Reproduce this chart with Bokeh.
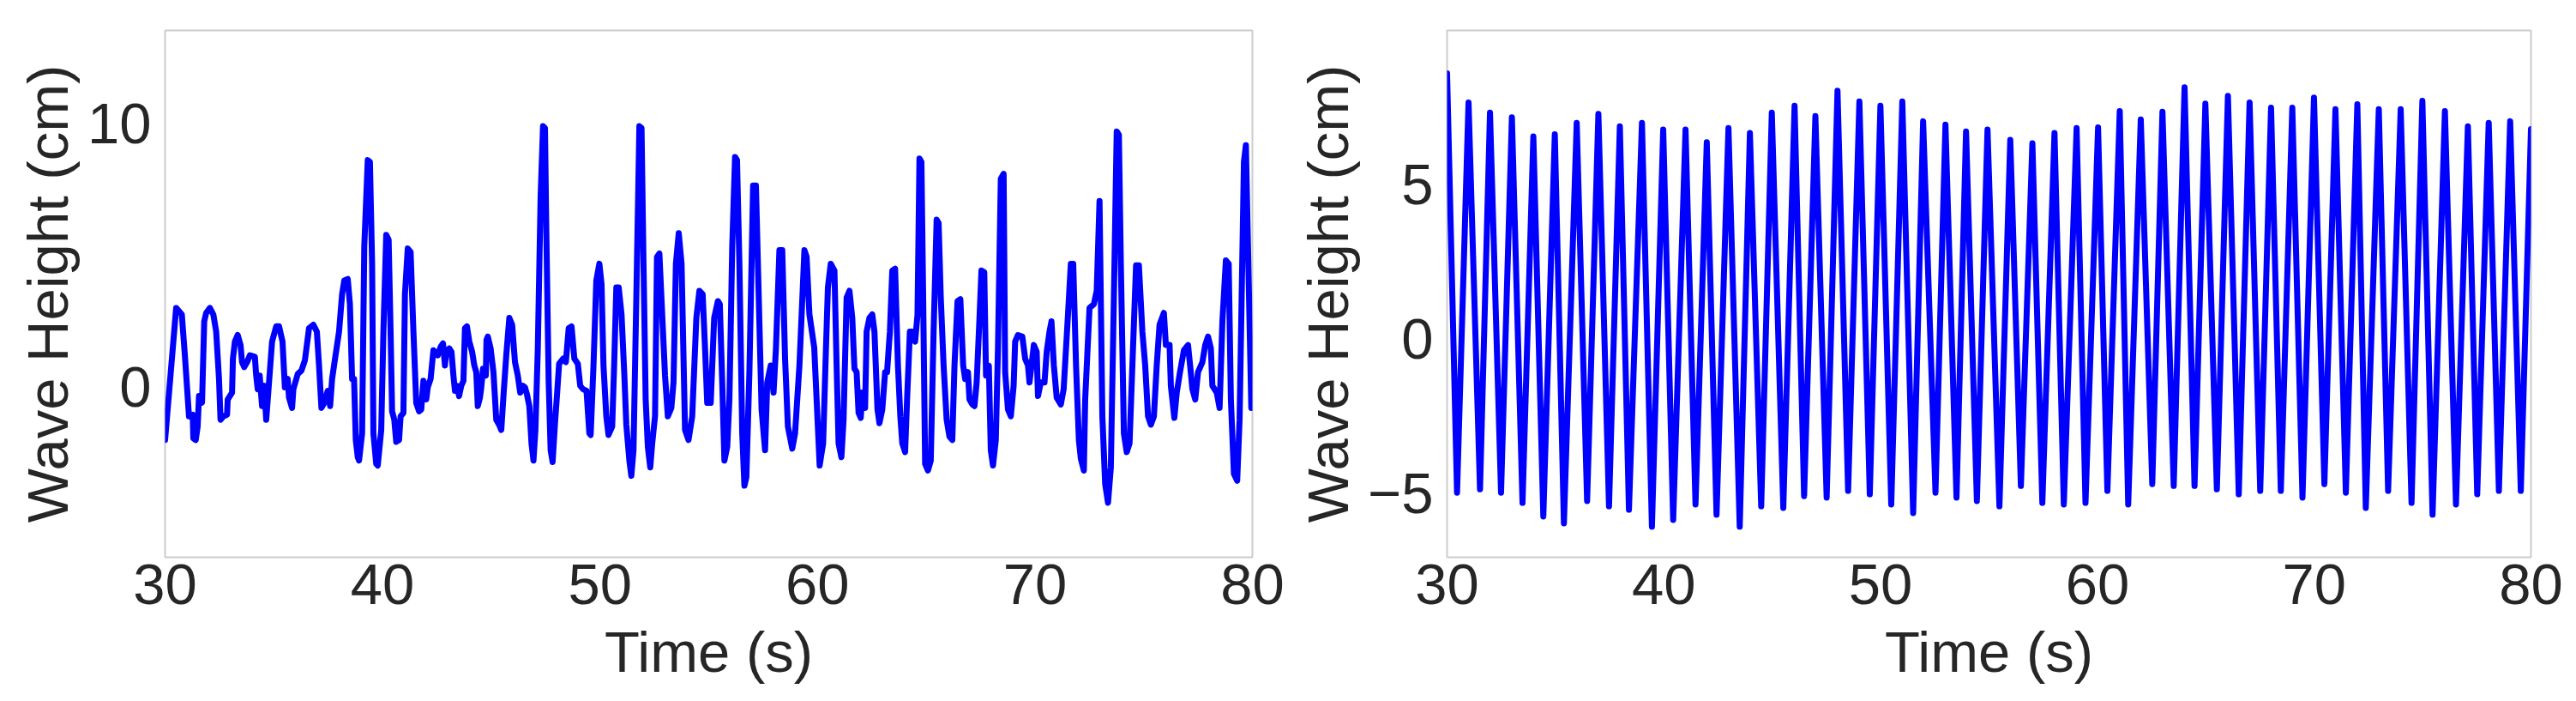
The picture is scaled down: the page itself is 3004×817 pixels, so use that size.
from bokeh.plotting import figure
from bokeh.layouts import row
from bokeh.models import FixedTicker, Range1d
from bokeh.embed import file_html
from bokeh.resources import INLINE

# ---- data ----
time_irregular = [
    30.00, 30.51, 30.77, 30.91, 31.10, 31.27, 31.30, 31.41, 31.50, 31.56, 31.70, 31.80, 31.89, 32.06, 32.22,
    32.35, 32.48, 32.55, 32.68, 32.85, 32.88, 33.08, 33.12, 33.21, 33.34, 33.47, 33.54, 33.64, 33.77, 33.90,
    34.13, 34.19, 34.26, 34.35, 34.46, 34.56, 34.65, 34.78, 34.92, 35.11, 35.24, 35.40, 35.51, 35.64, 35.70,
    35.84, 35.90, 36.10, 36.27, 36.43, 36.62, 36.82, 36.98, 37.08, 37.19, 37.32, 37.48, 37.59, 37.68, 37.77,
    38.00, 38.14, 38.24, 38.40, 38.50, 38.60, 38.69, 38.77, 38.86, 38.92, 39.06, 39.16, 39.32, 39.42, 39.52,
    39.58, 39.71, 39.78, 39.94, 40.04, 40.17, 40.28, 40.37, 40.44, 40.54, 40.63, 40.76, 40.83, 40.96, 41.03,
    41.16, 41.29, 41.42, 41.55, 41.68, 41.78, 41.88, 42.01, 42.08, 42.21, 42.34, 42.54, 42.67, 42.78, 42.87,
    42.93, 43.07, 43.17, 43.26, 43.33, 43.43, 43.52, 43.62, 43.72, 43.79, 43.88, 43.99, 44.12, 44.22, 44.31,
    44.38, 44.48, 44.54, 44.62, 44.75, 44.78, 44.84, 44.97, 45.10, 45.23, 45.36, 45.46, 45.56, 45.69, 45.83,
    45.96, 46.09, 46.22, 46.33, 46.46, 46.55, 46.64, 46.75, 46.85, 46.94, 47.03, 47.14, 47.27, 47.38, 47.47,
    47.53, 47.64, 47.73, 47.82, 47.93, 48.03, 48.12, 48.30, 48.43, 48.56, 48.69, 48.82, 48.98, 49.09, 49.22,
    49.38, 49.51, 49.57, 49.70, 49.83, 49.97, 50.07, 50.16, 50.29, 50.39, 50.56, 50.65, 50.75, 50.86, 50.99,
    51.12, 51.21, 51.35, 51.44, 51.54, 51.67, 51.81, 51.91, 52.00, 52.10, 52.20, 52.31, 52.40, 52.53, 52.62,
    52.73, 52.86, 52.99, 53.12, 53.28, 53.38, 53.49, 53.62, 53.75, 53.91, 54.07, 54.24, 54.43, 54.57, 54.72,
    54.83, 54.93, 55.09, 55.16, 55.25, 55.42, 55.51, 55.62, 55.72, 55.85, 55.95, 56.08, 56.21, 56.30, 56.41,
    56.54, 56.64, 56.73, 56.87, 57.04, 57.17, 57.30, 57.43, 57.59, 57.69, 57.85, 57.98, 58.09, 58.25, 58.38,
    58.51, 58.64, 58.84, 58.97, 59.17, 59.40, 59.50, 59.63, 59.85, 60.10, 60.26, 60.39, 60.48, 60.61, 60.78,
    60.88, 60.97, 61.10, 61.20, 61.34, 61.47, 61.60, 61.70, 61.80, 61.89, 61.99, 62.06, 62.19, 62.26, 62.39,
    62.52, 62.62, 62.76, 62.85, 62.98, 63.11, 63.20, 63.33, 63.44, 63.57, 63.70, 63.81, 63.90, 64.03, 64.12,
    64.25, 64.36, 64.49, 64.60, 64.69, 64.78, 64.86, 64.95, 65.08, 65.21, 65.34, 65.48, 65.57, 65.67, 65.80,
    65.94, 66.07, 66.20, 66.30, 66.44, 66.57, 66.70, 66.79, 66.92, 66.99, 67.12, 67.22, 67.32, 67.45, 67.54,
    67.67, 67.75, 67.88, 67.97, 68.07, 68.20, 68.30, 68.43, 68.56, 68.63, 68.76, 68.89, 69.02, 69.09, 69.22,
    69.42, 69.55, 69.68, 69.75, 69.95, 70.08, 70.14, 70.27, 70.44, 70.54, 70.67, 70.76, 70.87, 71.00, 71.19,
    71.32, 71.52, 71.65, 71.76, 71.89, 72.02, 72.11, 72.25, 72.31, 72.51, 72.71, 72.84, 72.97, 73.10, 73.23,
    73.36, 73.49, 73.63, 73.76, 73.86, 73.95, 74.09, 74.22, 74.35, 74.48, 74.65, 74.78, 74.94, 75.07, 75.20,
    75.33, 75.47, 75.60, 75.73, 75.93, 76.02, 76.19, 76.25, 76.41, 76.52, 76.67, 76.85, 77.04, 77.15, 77.24,
    77.37, 77.50, 77.70, 77.83, 77.96, 78.09, 78.16, 78.36, 78.49, 78.62, 78.78, 78.91, 79.01, 79.15, 79.30,
    79.41, 79.61, 79.70, 79.95,
]
height_irregular = [
    -2.02, 3.00, 2.75, 1.20, -1.12, -1.06, -1.96, -2.02, -1.50, -0.35, -0.60, 2.49, 2.81, 3.00, 2.75,
    2.10, 0.30, -1.25, -1.12, -1.06, -0.48, -0.22, 1.07, 1.72, 1.97, 1.59, 0.94, 0.75, 0.94, 1.20,
    1.14, 0.43, -0.09, 0.43, -0.73, 0.04, -1.25, 0.17, 1.72, 2.30, 2.30, 1.72, -0.02, 0.30, -0.41,
    -0.80, -0.09, 0.49, 0.62, 1.01, 2.23, 2.36, 2.10, 0.81, -0.80, -0.61, -0.15, -0.73, 0.30, 0.81,
    2.10, 3.52, 4.04, 4.10, 3.14, 0.30, 0.30, -2.02, -2.67, -2.80, -1.77, 5.33, 8.62, 8.55, 4.68,
    -1.77, -2.93, -2.99, -1.64, 2.10, 5.78, 5.59, 2.10, -0.93, -1.25, -2.09, -2.02, -1.12, -0.99, 3.52,
    5.26, 5.13, 2.10, -0.61, -0.93, -0.86, 0.23, -0.48, -0.02, 0.30, 1.39, 1.20, 1.52, 1.65, 0.81,
    1.33, 1.46, 1.33, 0.43, -0.15, 0.04, -0.35, 0.04, 0.23, 2.23, 2.30, 1.72, 1.33, 0.81, 0.56,
    -0.73, -0.41, -0.02, 0.69, 0.43, 1.78, 1.91, 1.46, 0.56, -1.25, -1.44, -1.64, -0.35, 1.20, 2.62,
    2.36, 0.94, 0.43, -0.22, 0.04, -0.02, -0.28, -0.73, -2.15, -2.80, -1.64, 1.46, 7.26, 9.91, 9.84,
    5.97, 0.17, -2.41, -2.86, -1.38, -0.22, 0.88, 1.07, 0.94, 2.23, 2.30, 1.07, 0.88, 0.04, -0.09,
    -0.15, -1.77, -1.83, 0.81, 4.04, 4.68, 3.91, 0.81, -1.12, -1.83, -1.51, 0.81, 3.78, 3.78, 2.75,
    0.43, -1.44, -2.80, -3.38, -2.41, 3.39, 9.91, 9.84, 4.68, -0.48, -2.28, -3.06, -2.15, -1.12, 4.94,
    5.07, 2.75, 0.43, -1.12, -0.80, 0.17, 4.68, 5.84, 4.68, -1.64, -2.02, -1.12, 2.62, 3.65, 3.52,
    1.46, -0.61, -0.61, 0.81, 2.62, 3.26, 3.14, 0.17, -2.80, -2.28, -0.48, 5.33, 8.74, 8.62, 4.68,
    -1.77, -3.76, -3.44, 0.56, 7.65, 7.65, 3.39, -0.86, -2.41, 0.17, 0.81, -0.22, 1.46, 5.20, 5.20,
    1.07, -1.51, -2.35, -1.77, 0.81, 5.20, 4.94, 2.75, 1.50, -2.99, -2.15, 1.46, 3.78, 4.68, 4.42,
    0.81, -2.15, -2.67, -1.25, 3.39, 3.65, 2.62, 0.69, 0.56, -0.99, -1.18, -0.22, -0.80, 2.10, 2.62,
    2.75, 2.10, -0.86, -1.38, -0.86, 0.56, 0.56, 2.10, 4.42, 4.49, 0.81, -1.12, -2.15, -2.48, -0.48,
    2.10, 2.10, 1.72, 2.75, 8.68, 8.55, 3.39, -2.93, -3.18, -2.80, 2.10, 6.36, 6.23, 3.39, 0.81,
    -1.25, -1.89, -2.02, 0.81, 3.26, 3.33, 0.81, 0.30, 0.56, -0.48, -0.67, -0.73, 0.17, 2.62, 4.42,
    4.36, 0.43, 0.81, -2.41, -2.99, -2.02, 1.46, 7.91, 8.10, 0.56, -0.86, -1.12, 0.04, 1.72, 1.97,
    1.91, 1.07, 0.81, 0.17, 1.59, 1.33, -0.35, 0.17, 0.17, 1.33, 2.10, 2.49, 0.81, -0.41, -0.67,
    -0.09, 2.75, 4.68, 4.68, 0.81, -2.02, -2.73, -3.18, -0.48, 3.00, 3.14, 3.65, 7.07, -1.12, -3.70,
    -4.41, -3.06, 3.39, 9.71, 9.58, 4.68, -1.77, -2.48, -2.15, 0.81, 4.62, 4.62, 2.10, 0.81, -1.12,
    -1.44, -1.12, 0.81, 2.36, 2.81, 1.59, 1.59, 0.04, -1.18, -0.22, 0.56, 1.39, 1.59, 0.69, -0.09,
    -0.48, 0.56, 0.94, 1.59, 1.91, 1.46, 0.04, -0.22, -0.80, 2.49, 4.81, 4.68, -0.48, -3.31, -3.57,
    -1.25, 8.55, 9.19, -0.80,
]

time_regular = [
    30.00, 30.46, 30.99, 31.52, 31.98, 32.49, 32.99, 33.48, 33.98, 34.44, 34.97, 35.39, 35.98, 36.46, 36.98,
    37.47, 37.97, 38.39, 38.99, 39.45, 39.97, 40.43, 41.00, 41.46, 41.98, 42.43, 42.98, 43.50, 43.97, 44.49,
    44.98, 45.51, 46.03, 46.47, 46.99, 47.51, 48.01, 48.50, 49.02, 49.50, 49.99, 50.49, 51.00, 51.50, 51.96,
    52.53, 52.99, 53.50, 53.94, 54.44, 54.93, 55.48, 55.98, 56.47, 57.00, 57.46, 58.02, 58.45, 59.04, 59.45,
    60.03, 60.46, 61.03, 61.42, 62.00, 62.53, 63.00, 63.52, 64.02, 64.48, 64.98, 65.51, 66.02, 66.52, 67.02,
    67.51, 68.01, 68.46, 68.99, 69.46, 69.99, 70.47, 70.98, 71.46, 71.99, 72.38, 72.98, 73.41, 73.99, 74.49,
    74.99, 75.46, 76.03, 76.54, 77.09, 77.52, 78.05, 78.52, 79.04, 79.53, 80.00,
]
height_regular = [
    8.60, -4.97, 7.66, -4.86, 7.33, -4.97, 7.18, -5.30, 6.56, -5.74, 6.63, -5.96, 7.00, -5.24, 7.29,
    -5.41, 6.89, -5.52, 7.00, -6.07, 6.78, -5.85, 6.78, -5.35, 6.37, -5.68, 6.83, -6.07, 6.67, -5.41,
    7.33, -5.46, 7.55, -5.08, 7.22, -5.13, 8.04, -4.91, 7.69, -5.02, 7.55, -5.35, 7.69, -5.63, 7.05,
    -4.97, 6.94, -5.13, 6.72, -5.24, 6.78, -5.41, 6.45, -4.75, 6.34, -5.30, 6.67, -5.35, 6.83, -5.30,
    6.85, -4.91, 7.38, -5.35, 7.11, -4.69, 7.36, -4.75, 8.15, -4.75, 7.62, -4.86, 7.87, -5.02, 7.66,
    -4.91, 7.49, -4.91, 7.49, -5.13, 7.82, -4.69, 7.44, -4.97, 7.60, -5.46, 7.44, -4.91, 7.44, -5.30,
    7.71, -5.68, 7.38, -5.35, 6.89, -5.02, 7.00, -4.91, 7.05, -4.91, 6.80,
]

x_ticks = [30, 40, 50, 60, 70, 80]
y_ticks_left = [0, 10]
y_ticks_right = [-5, 0, 5]
x_label = "Time (s)"
y_label = "Wave Height (cm)"

FONT = "Liberation Sans"
TXT = "#262626"
FS = "67px"


def make_panel(t, h, y_range, y_ticks, border_left, width, border_right):
    p = figure(
        width=width, height=808,
        x_range=Range1d(30, 80), y_range=Range1d(*y_range),
        output_backend="svg", toolbar_location=None,
        min_border_left=border_left, min_border_right=border_right,
        min_border_top=35, min_border_bottom=159,
    )
    p.line(t, h, line_color="#0000ff", line_width=7, line_join="round", line_cap="round")
    p.grid.visible = False
    p.outline_line_color = "#cccccc"
    p.outline_line_width = 2
    p.background_fill_color = "white"
    p.border_fill_color = "white"

    p.xaxis.ticker = FixedTicker(ticks=x_ticks)
    p.yaxis.ticker = FixedTicker(ticks=y_ticks)
    p.yaxis.major_label_overrides = {-5: "\u22125"}
    for ax in (p.xaxis, p.yaxis):
        ax.axis_line_color = None
        ax.major_tick_line_color = None
        ax.minor_tick_line_color = None
        ax.major_label_text_font = FONT
        ax.major_label_text_font_size = FS
        ax.major_label_text_color = TXT
        ax.axis_label_text_font = FONT
        ax.axis_label_text_font_size = FS
        ax.axis_label_text_color = TXT
        ax.axis_label_text_font_style = "normal"
    p.xaxis.axis_label = x_label
    p.yaxis.axis_label = y_label
    p.xaxis.major_label_standoff = 2
    p.xaxis.axis_label_standoff = 15
    p.yaxis.major_label_standoff = 10
    p.yaxis.axis_label_standoff = 6
    return p


p1 = make_panel(time_irregular, height_irregular, (-6.48, 13.55), y_ticks_left, 192, 1508, 48)
p2 = make_panel(time_regular, height_regular, (-7.06, 9.99), y_ticks_right, 178, 1483, 40)

layout = row(p1, p2)
open("out.html", "w").write(file_html(layout, INLINE))
